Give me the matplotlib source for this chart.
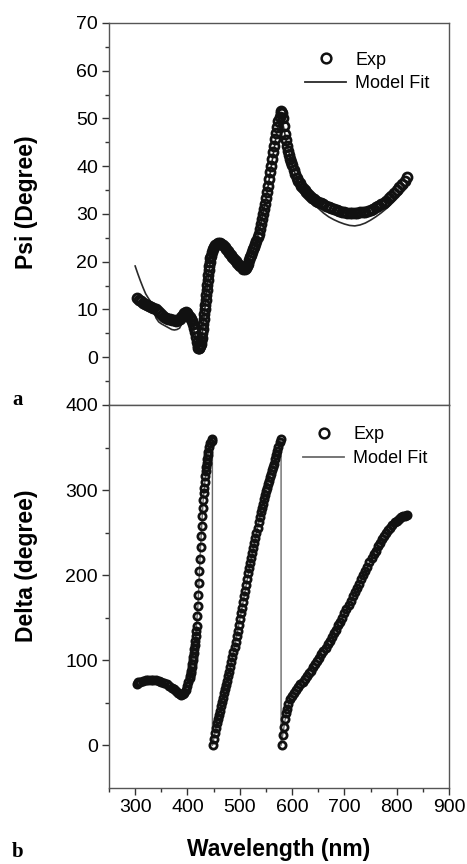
import matplotlib
matplotlib.use('Agg')
import matplotlib.pyplot as plt
import matplotlib.ticker as ticker
from matplotlib.lines import Line2D

plt.rcParams['font.family'] = ['Liberation Sans', 'DejaVu Sans']

# ---- Psi (panel a) ----
psi_exp_nm = [303, 307, 311, 315, 319, 323, 327, 331, 335, 339, 343, 347, 351, 355, 359, 363,
              367, 371, 375, 379, 382, 385, 388, 391, 394, 397, 400, 402, 404, 406, 408, 410,
              412, 414, 416, 418, 420, 421, 422, 423, 424, 425, 426, 427, 428, 429, 430, 431,
              432, 433, 434, 435, 436, 437, 438, 439, 440, 441, 442, 443, 444, 445, 447, 449,
              451, 453, 456, 459, 462, 465, 468, 471, 474, 477, 480, 483, 486, 489, 492, 495,
              498, 501, 504, 507, 510, 512, 514, 516, 518, 520, 522, 524, 526, 528, 530, 532,
              534, 536, 538, 540, 542, 544, 546, 548, 550, 552, 554, 556, 558, 560, 562, 564,
              566, 568, 570, 572, 574, 576, 578, 579, 580, 582, 584, 586, 588, 590, 592, 594,
              596, 598, 600, 603, 606, 609, 612, 615, 618, 621, 624, 627, 630, 634, 638, 642,
              646, 650, 655, 660, 665, 670, 675, 680, 685, 690, 695, 700, 705, 710, 715, 720,
              725, 730, 735, 740, 745, 750, 755, 760, 765, 770, 775, 780, 785, 790, 795, 800,
              805, 810, 815, 820]
psi_exp = [12.3, 12.0, 11.7, 11.4, 11.1, 10.9, 10.7, 10.5, 10.3, 10.0, 9.6, 9.2, 8.8, 8.5, 8.2, 8.0,
           7.9, 7.8, 7.7, 7.6, 7.7, 8.0, 8.5, 8.9, 9.2, 9.4, 9.2, 8.9, 8.5, 8.1, 7.6, 6.9,
           6.1, 5.2, 4.2, 3.2, 2.4, 2.0, 1.9, 2.0, 2.3, 2.8, 3.4, 4.1, 5.0, 6.0, 7.0, 8.0,
           9.0, 10.0, 11.0, 12.0, 13.0, 14.0, 15.1, 16.1, 17.2, 18.2, 19.1, 20.0, 20.7, 21.3, 22.1, 22.7,
           23.1, 23.4, 23.7, 23.9, 23.9, 23.7, 23.4, 23.0, 22.6, 22.2, 21.8, 21.4, 21.0, 20.6, 20.2, 19.8,
           19.4, 19.1, 18.8, 18.5, 18.4, 18.6, 19.1, 19.6, 20.3, 20.9, 21.5, 22.0, 22.6, 23.1, 23.7, 24.4,
           25.1, 25.9, 26.8, 27.8, 28.9, 30.0, 31.0, 32.1, 33.3, 34.6, 35.9, 37.3, 38.7, 40.1, 41.5, 42.9,
           44.3, 45.7, 47.0, 48.2, 49.4, 50.3, 51.1, 51.5, 51.2, 50.0, 48.4, 46.8, 45.4, 44.2, 43.2, 42.3,
           41.6, 40.9, 40.3, 39.3, 38.4, 37.6, 36.9, 36.4, 35.9, 35.4, 35.0, 34.6, 34.2, 33.8, 33.4, 33.1,
           32.8, 32.6, 32.3, 32.0, 31.7, 31.4, 31.2, 31.0, 30.8, 30.6, 30.5, 30.4, 30.3, 30.3, 30.3, 30.3,
           30.3, 30.4, 30.4, 30.5, 30.7, 30.9, 31.1, 31.4, 31.7, 32.0, 32.4, 32.8, 33.3, 33.8, 34.4, 35.0,
           35.6, 36.3, 37.0, 37.7]

psi_fit_nm = [300, 305, 310, 315, 320, 325, 330, 335, 340, 345, 350, 355, 360, 365, 370, 375,
              380, 385, 390, 395, 399, 403, 407, 411, 415, 419, 422, 425, 428, 432, 436, 440,
              444, 448, 452, 458, 464, 470, 480, 490, 500, 505, 510, 515, 520, 530, 540, 550,
              560, 570, 575, 579, 583, 590, 600, 610, 620, 630, 640, 650, 660, 670, 680, 690,
              700, 710, 720, 730, 740, 750, 760, 770, 780, 790, 800, 810, 820]
psi_fit = [19.1, 17.5, 16.0, 14.6, 13.3, 12.4, 11.6, 9.8, 8.2, 7.4, 7.0, 6.7, 6.4, 6.1, 5.8, 5.7,
           5.8, 6.1, 7.2, 8.6, 9.2, 8.7, 7.6, 6.1, 4.4, 2.8, 2.0, 2.5, 4.6, 8.8, 13.0, 17.0,
           20.5, 22.3, 23.2, 23.7, 23.7, 23.0, 21.8, 20.4, 19.1, 18.6, 18.3, 19.2, 20.8, 23.6, 27.6, 33.0,
           39.8, 46.6, 49.0, 49.8, 48.6, 44.6, 40.3, 37.2, 35.1, 33.6, 32.3, 31.2, 30.2, 29.4, 28.8, 28.3,
           27.9, 27.6, 27.5, 27.7, 28.1, 28.7, 29.4, 30.2, 31.1, 32.1, 33.2, 34.4, 35.6]

# ---- Delta (panel b) ----
delta_exp_nm = [303, 306, 310, 315, 320, 325, 330, 335, 340, 345, 350, 355, 360, 365, 370, 374,
                378, 382, 385, 388, 391, 394, 397, 400, 402, 404, 405, 406, 407, 408, 409, 410,
                411, 412, 413, 414, 415, 416, 417, 418, 419, 420, 421, 422, 423, 424, 425, 426,
                427, 428, 429, 430, 431, 432, 433, 434, 435, 436, 437, 438, 439, 440, 442, 444,
                446, 447,
                448, 450, 452, 454, 456, 458, 460, 462, 464, 466, 468, 470, 472, 474, 476, 478,
                480, 482, 484, 486, 488, 490, 492, 494, 496, 498, 500, 502, 504, 506, 508, 510,
                512, 514, 516, 518, 520, 522, 524, 526, 528, 530, 532, 534, 536, 538, 540, 542,
                544, 546, 548, 550, 552, 554, 556, 558, 560, 562, 564, 566, 568, 570, 572, 574,
                576, 578,
                580, 582, 584, 586, 588, 590, 593, 596, 600, 604, 608, 612, 616, 620, 624, 628,
                632, 636, 640, 644, 648, 652, 656, 660, 664, 668, 672, 676, 680, 684, 688, 692,
                696, 700, 704, 708, 712, 716, 720, 724, 728, 732, 736, 740, 744, 748, 752, 756,
                760, 764, 768, 772, 776, 780, 784, 788, 792, 796, 800, 804, 808, 812, 816, 820]
delta_exp = [72, 74, 75, 76, 76.5, 77, 77, 77, 76.5, 76, 75, 73.5, 72, 70, 68, 66,
             64, 62, 60.5, 59.5, 60, 62, 65, 70, 74, 79, 82, 85, 88, 92, 96, 100,
             104, 108, 113, 118, 123, 128, 134, 140, 152, 164, 177, 191, 205, 219, 233, 246,
             258, 269, 279, 288, 296, 303, 310, 316, 322, 327, 332, 337, 341, 345, 351, 355,
             358, 360,
             1, 8, 14, 20, 26, 31, 36, 41, 46, 51, 56, 61, 66, 71, 76, 81,
             86, 92, 98, 104, 110, 116, 122, 128, 135, 141, 148, 155, 162, 168, 175, 182,
             189, 196, 202, 208, 214, 220, 226, 232, 238, 244, 250, 256, 262, 268, 274, 279,
             284, 289, 294, 299, 303, 307, 311, 315, 319, 323, 327, 331, 336, 341, 346, 351,
             356, 360,
             1, 12, 22, 31, 38, 43, 49, 54, 58, 62, 65, 69, 72, 75, 78, 81,
             85, 88, 92, 96, 99, 103, 107, 111, 115, 119, 123, 127, 132, 136, 141, 145,
             150, 155, 160, 165, 170, 175, 180, 185, 190, 195, 200, 205, 210, 215, 220, 225,
             229, 234, 238, 242, 246, 250, 253, 256, 259, 262, 264, 266, 268, 269, 270, 271]

delta_fit_nm = [303, 320, 340, 360, 380, 388, 395, 400, 405, 410, 415, 420, 425, 430, 435, 440,
                447.7, 447.7, 455, 465, 480, 500, 520, 540, 560, 579, 579, 590, 600, 620, 650, 680,
                720, 760, 790, 820]
delta_fit = [72, 76.5, 76.5, 72, 63, 59.5, 63, 70, 82, 100, 123, 164, 233, 288, 322, 345,
             360, 0, 23, 48, 86, 148, 214, 274, 319, 360, 0, 43, 58, 75, 105, 132,
             180, 229, 257, 271]

tick_fs = 14
label_fs = 16.5


def style_axis(ax):
    for sp in ax.spines.values():
        sp.set_color('#555555')
        sp.set_linewidth(1.0)
    ax.tick_params(which='both', direction='out', color='#333333', width=1.0,
                   labelsize=tick_fs, top=False, right=False, pad=3)
    ax.tick_params(which='major', length=5)
    ax.tick_params(which='minor', length=3)


def add_legend(ax, fit_color, anchor, spacing):
    # proxy handles so the legend circle keeps a clear open look
    h_exp = Line2D([], [], ls='none', marker='o', ms=7, mfc='none', mec='#111111', mew=1.8)
    h_fit = Line2D([], [], color=fit_color, lw=1.3)
    ax.legend([h_exp, h_fit], ['Exp', 'Model Fit'], loc='upper left',
              bbox_to_anchor=anchor, frameon=False, fontsize=13,
              borderpad=0, borderaxespad=0, handlelength=2.3, handletextpad=0.5,
              labelspacing=spacing)


fig = plt.figure(figsize=(4.67, 8.64), dpi=100)
ax1 = fig.add_axes([0.2334, 0.5313, 0.728, 0.4421])
ax2 = fig.add_axes([0.2334, 0.088, 0.728, 0.4433])

# panel a
ax1.plot(psi_fit_nm, psi_fit, color='#2a2a2a', lw=1.2, zorder=2)
ax1.plot(psi_exp_nm, psi_exp, 'o', ms=6.5, mfc='none', mec='#111111', mew=2.0, zorder=3)
ax1.set_xlim(250, 900)
ax1.set_ylim(-10, 70)
ax1.set_yticks(range(0, 71, 10))
ax1.yaxis.set_minor_locator(ticker.FixedLocator(range(-5, 70, 10)))
ax1.xaxis.set_major_locator(ticker.NullLocator())
style_axis(ax1)
ax1.tick_params(axis='x', which='both', bottom=False, labelbottom=False)
ax1.set_ylabel('Psi (Degree)', fontsize=label_fs, fontweight='bold')
ax1.yaxis.set_label_coords(-0.21, 0.53)
add_legend(ax1, '#2a2a2a', (0.576, 0.925), 0.35)

# panel b
ax2.plot(delta_fit_nm, delta_fit, color='#6a6a6a', lw=1.0, zorder=2)
ax2.plot(delta_exp_nm, delta_exp, 'o', ms=5.2, mfc='none', mec='#111111', mew=2.0, zorder=3)
ax2.set_xlim(250, 900)
ax2.set_ylim(-50, 400)
ax2.set_yticks(range(0, 401, 100))
ax2.yaxis.set_minor_locator(ticker.FixedLocator(range(50, 400, 100)))
ax2.set_xticks(range(300, 901, 100))
ax2.xaxis.set_minor_locator(ticker.FixedLocator(range(250, 900, 100)))
style_axis(ax2)
ax2.set_ylabel('Delta (degree)', fontsize=label_fs, fontweight='bold')
ax2.yaxis.set_label_coords(-0.21, 0.58)
ax2.set_xlabel('Wavelength (nm)', fontsize=label_fs, fontweight='bold', labelpad=16)
add_legend(ax2, '#6a6a6a', (0.57, 0.945), 0.4)

# panel letters
fig.text(18 / 467, 1 - 400 / 864, 'a', family='Liberation Serif', fontweight='bold',
         fontsize=15, ha='center', va='center')
fig.text(18 / 467, 1 - 852 / 864, 'b', family='Liberation Serif', fontweight='bold',
         fontsize=15, ha='center', va='center')

fig.savefig('out.png', dpi=100)
